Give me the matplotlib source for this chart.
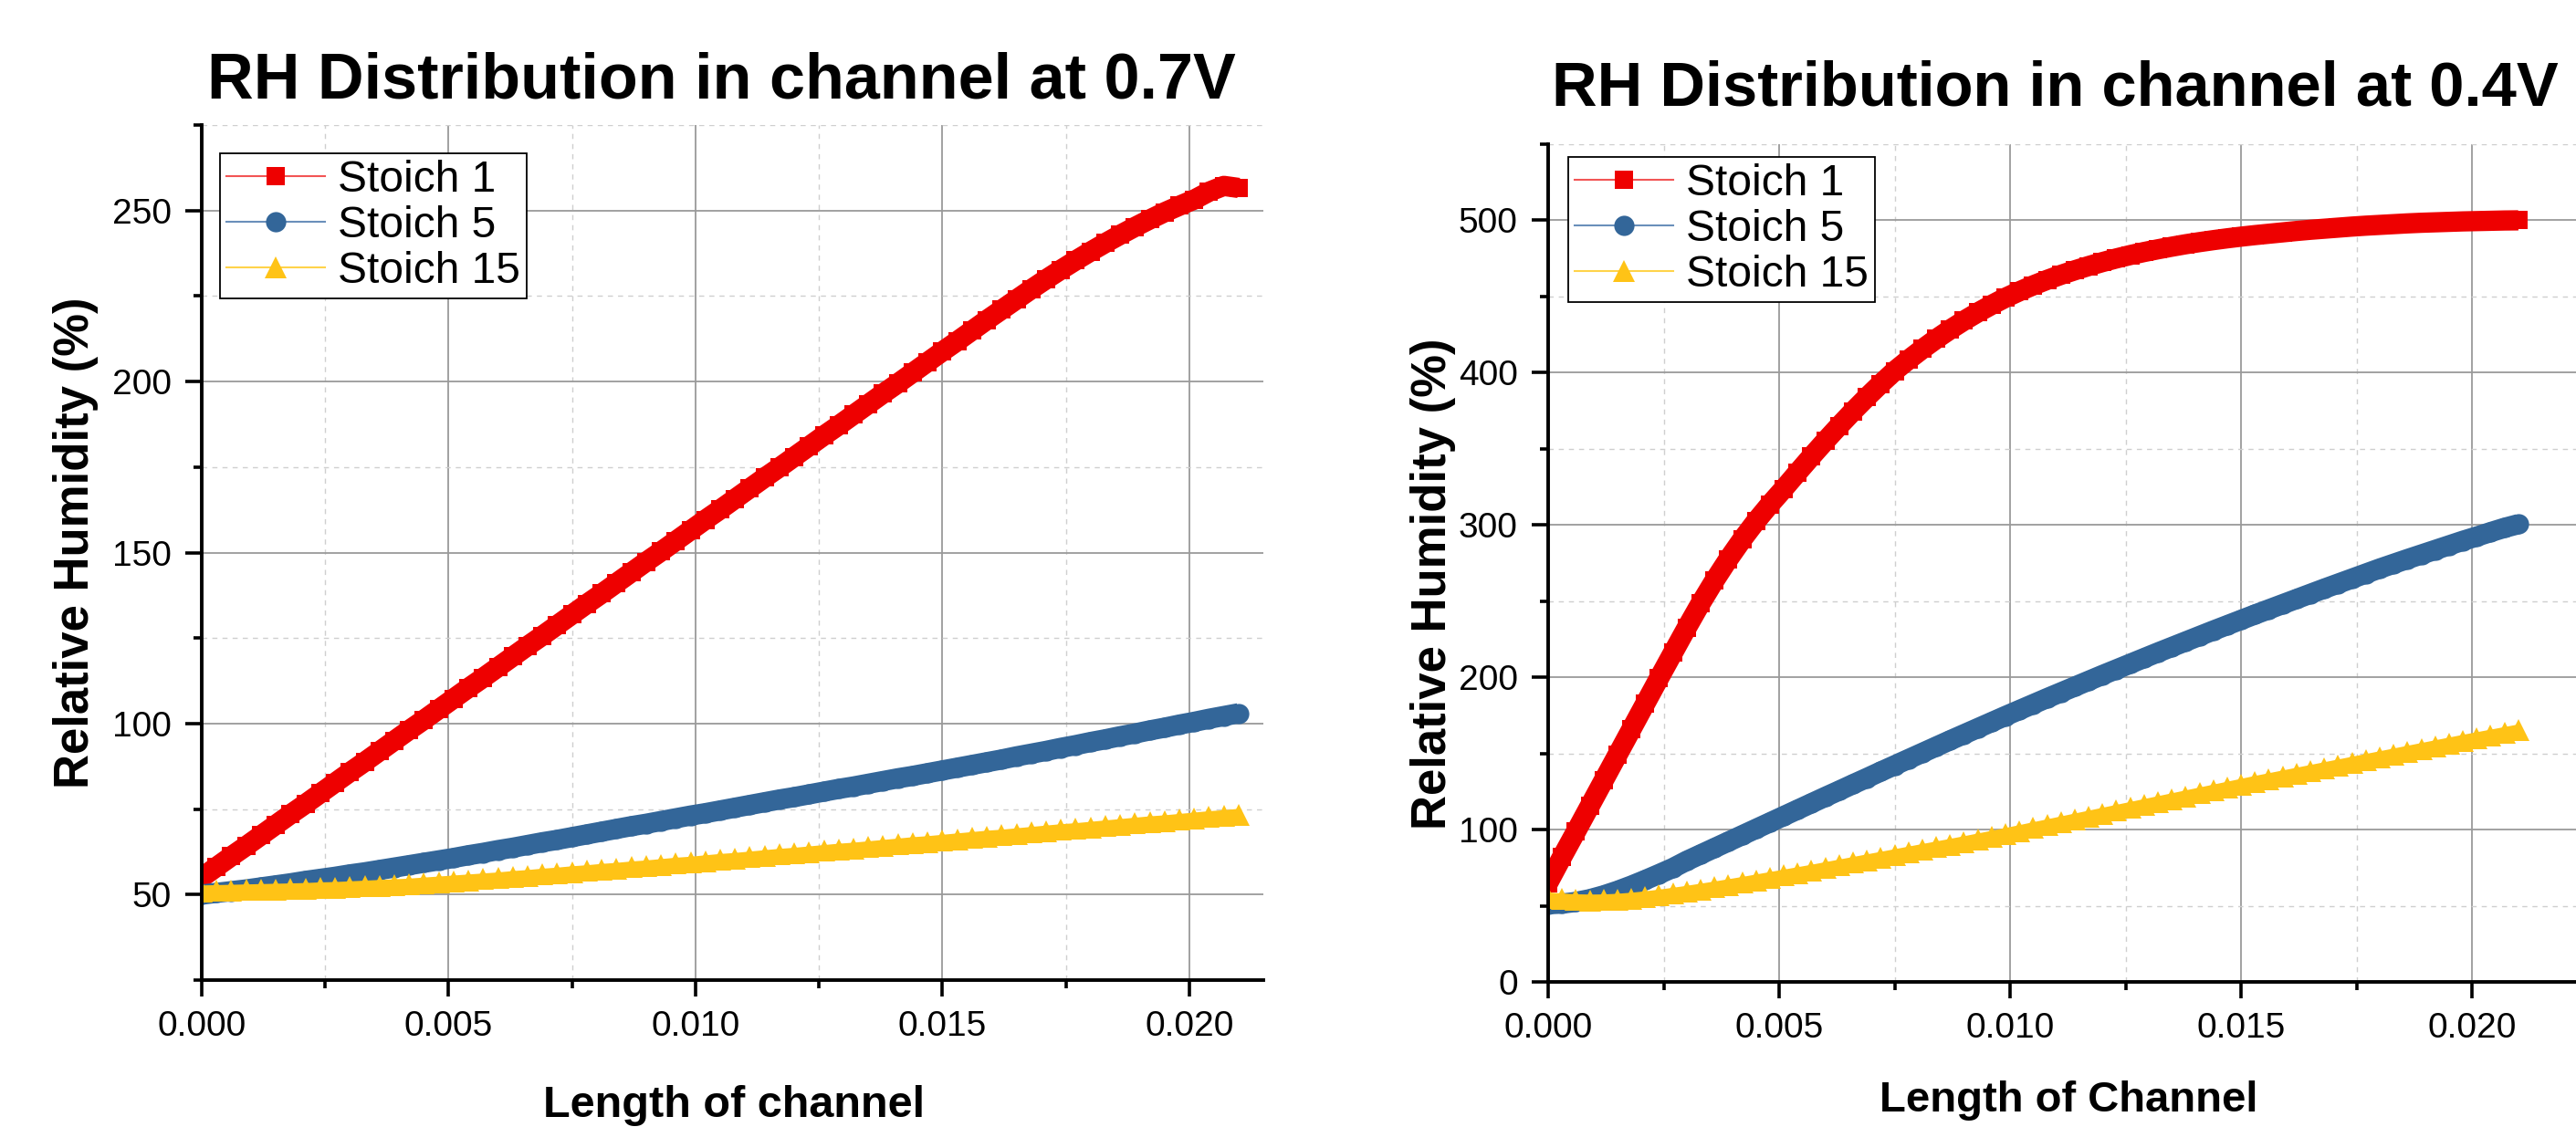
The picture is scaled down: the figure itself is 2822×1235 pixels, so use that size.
import numpy as np
import matplotlib
matplotlib.use("Agg")
import matplotlib.pyplot as plt
from matplotlib.lines import Line2D
from matplotlib.ticker import MultipleLocator, FormatStrFormatter

plt.rcParams['font.family'] = ['Liberation Sans', 'DejaVu Sans']

# channel position (m)
length = [0.0000, 0.0003, 0.0006, 0.0009, 0.0012, 0.0015, 0.0018, 0.0021, 0.0024, 0.0027,
          0.0030, 0.0033, 0.0036, 0.0039, 0.0042, 0.0045, 0.0048, 0.0051, 0.0054, 0.0057,
          0.0060, 0.0063, 0.0066, 0.0069, 0.0072, 0.0075, 0.0078, 0.0081, 0.0084, 0.0087,
          0.0090, 0.0093, 0.0096, 0.0099, 0.0102, 0.0105, 0.0108, 0.0111, 0.0114, 0.0117,
          0.0120, 0.0123, 0.0126, 0.0129, 0.0132, 0.0135, 0.0138, 0.0141, 0.0144, 0.0147,
          0.0150, 0.0153, 0.0156, 0.0159, 0.0162, 0.0165, 0.0168, 0.0171, 0.0174, 0.0177,
          0.0180, 0.0183, 0.0186, 0.0189, 0.0192, 0.0195, 0.0198, 0.0201, 0.0204, 0.0207,
          0.0210]

# RH (%) at 0.7 V
rh07_s1 = [55.0, 58.1, 61.2, 64.2, 67.3, 70.4, 73.5, 76.5, 79.6, 82.7,
           85.8, 88.8, 91.9, 95.0, 98.1, 101.1, 104.2, 107.3, 110.4, 113.4,
           116.5, 119.6, 122.7, 125.7, 128.8, 131.9, 135.0, 138.0, 141.1, 144.2,
           147.3, 150.3, 153.4, 156.5, 159.6, 162.6, 165.7, 168.8, 171.9, 174.9,
           178.0, 181.1, 184.2, 187.2, 190.3, 193.4, 196.5, 199.5, 202.6, 205.7,
           208.8, 211.8, 214.9, 218.0, 221.0, 224.0, 227.0, 229.9, 232.7, 235.4,
           238.0, 240.5, 242.9, 245.2, 247.4, 249.5, 251.4, 253.2, 255.5, 257.2,
           256.6]
rh07_s5 = [50.0, 50.5, 51.0, 51.5, 52.1, 52.7, 53.3, 54.0, 54.6, 55.2,
           55.9, 56.5, 57.2, 57.9, 58.6, 59.3, 60.0, 60.7, 61.5, 62.2,
           63.0, 63.7, 64.5, 65.3, 66.0, 66.8, 67.6, 68.4, 69.2, 70.0,
           70.7, 71.5, 72.3, 73.1, 73.8, 74.6, 75.4, 76.2, 77.0, 77.8,
           78.5, 79.3, 80.1, 80.9, 81.6, 82.4, 83.2, 84.0, 84.7, 85.5,
           86.3, 87.1, 87.9, 88.7, 89.5, 90.4, 91.2, 92.0, 92.9, 93.7,
           94.6, 95.4, 96.3, 97.1, 98.0, 98.8, 99.7, 100.5, 101.4, 102.2,
           103.0]
rh07_s15 = [51.0, 51.1, 51.2, 51.3, 51.4, 51.5, 51.6, 51.7, 51.9, 52.0,
            52.2, 52.4, 52.6, 52.8, 53.0, 53.3, 53.6, 53.9, 54.2, 54.5,
            54.8, 55.2, 55.5, 55.9, 56.2, 56.6, 56.9, 57.3, 57.6, 58.0,
            58.3, 58.7, 59.1, 59.4, 59.8, 60.2, 60.5, 60.9, 61.3, 61.7,
            62.0, 62.4, 62.8, 63.2, 63.5, 63.9, 64.3, 64.7, 65.1, 65.4,
            65.8, 66.2, 66.6, 67.0, 67.3, 67.7, 68.1, 68.5, 68.9, 69.2,
            69.6, 70.0, 70.4, 70.8, 71.2, 71.5, 71.9, 72.3, 72.7, 73.0,
            73.4]

# RH (%) at 0.4 V
rh04_s1 = [65.0, 82.0, 98.6, 115.4, 132.2, 149.0, 165.8, 182.6, 199.4, 216.0,
           232.5, 248.5, 263.5, 277.5, 290.5, 302.5, 313.5, 323.8, 334.5, 345.0,
           355.2, 365.1, 374.7, 383.9, 392.7, 401.1, 408.5, 415.5, 422.1, 428.3,
           434.1, 439.5, 444.5, 449.2, 453.4, 457.3, 460.9, 464.2, 467.2, 470.0,
           472.6, 475.0, 477.2, 479.2, 481.0, 482.7, 484.3, 485.7, 487.0, 488.2,
           489.3, 490.3, 491.2, 492.1, 493.0, 493.8, 494.5, 495.2, 495.9, 496.5,
           497.0, 497.5, 498.0, 498.4, 498.7, 499.0, 499.3, 499.5, 499.7, 499.9,
           500.0]
rh04_s5 = [51.0, 51.4, 52.5, 54.3, 56.8, 59.8, 63.2, 66.9, 70.8, 74.8,
           79.5, 83.7, 87.9, 92.1, 96.3, 100.5, 104.7, 108.9, 113.1, 117.3,
           121.5, 125.6, 129.8, 133.9, 138.1, 142.2, 146.3, 150.4, 154.5, 158.6,
           162.6, 166.6, 170.6, 174.6, 178.5, 182.4, 186.3, 190.1, 193.9, 197.7,
           201.5, 205.2, 208.9, 212.6, 216.3, 219.9, 223.5, 227.1, 230.7, 234.2,
           237.7, 241.2, 244.6, 248.0, 251.4, 254.8, 258.2, 261.5, 264.8, 268.1,
           271.4, 274.5, 277.6, 280.6, 283.6, 286.6, 289.6, 292.4, 295.3, 298.1,
           300.5]
rh04_s15 = [55.0, 54.3, 53.8, 53.6, 53.7, 54.1, 54.8, 55.7, 56.8, 58.0,
            59.3, 60.7, 62.1, 63.6, 65.1, 66.7, 68.3, 69.9, 71.5, 73.1,
            74.8, 76.5, 78.2, 79.9, 81.6, 83.3, 85.0, 86.7, 88.4, 90.1,
            91.8, 93.6, 95.4, 97.2, 99.1, 101.0, 102.9, 104.8, 106.7, 108.6,
            110.5, 112.4, 114.3, 116.2, 118.1, 120.0, 121.9, 123.8, 125.7, 127.6,
            129.5, 131.4, 133.2, 135.0, 136.8, 138.6, 140.4, 142.2, 144.0, 145.8,
            147.6, 149.4, 151.2, 153.0, 154.8, 156.6, 158.4, 160.1, 161.8, 163.5,
            165.2]

labels = ['Stoich 1', 'Stoich 5', 'Stoich 15']
markers = ['s', 'o', '^']
msizes = [15, 16, 17]
bandw = [16, 16, 9]          # the dense markers merge into a band in the original
mcolors = ['#EE0000', '#336699', '#FFC316']
lcolors = ['#F25555', '#6A8FBA', '#FFD34A']

W, H = 2822, 1235
fig = plt.figure(figsize=(W / 100, H / 100), dpi=100)

ax1 = fig.add_axes([221 / W, 1 - 1074 / H, 1163 / W, 937 / H])
ax2 = fig.add_axes([1696 / W, 1 - 1076 / H, 1164 / W, 918 / H])


def style_axis(ax, ymaj, ymin):
    for s in ['top', 'right']:
        ax.spines[s].set_visible(False)
    for s in ['left', 'bottom']:
        ax.spines[s].set_linewidth(2.8)
    ax.xaxis.set_major_locator(MultipleLocator(0.005))
    ax.xaxis.set_minor_locator(MultipleLocator(0.0025))
    ax.xaxis.set_major_formatter(FormatStrFormatter('%.3f'))
    ax.yaxis.set_major_locator(MultipleLocator(ymaj))
    ax.yaxis.set_minor_locator(MultipleLocator(ymin))
    ax.tick_params(which='major', direction='out', length=13, width=2.6,
                   labelsize=28, pad=11)
    ax.tick_params(which='minor', direction='out', length=6.5, width=2.6)
    ax.grid(which='major', color='#9a9a9a', lw=1.3)
    ax.grid(which='minor', color='#cfcfcf', lw=1.0, ls=(0, (4, 4)))
    ax.set_axisbelow(True)


for ax, series, ylim, ymaj, ymin in [
        (ax1, [rh07_s1, rh07_s5, rh07_s15], (25, 275), 50, 25),
        (ax2, [rh04_s1, rh04_s5, rh04_s15], (0, 550), 100, 50)]:
    for y, mk, ms, bw, mc in zip(series, markers, msizes, bandw, mcolors):
        ax.plot(length, y, ls='-', lw=bw, color=mc, solid_capstyle='butt',
                solid_joinstyle='round', marker=mk, ms=ms, mfc=mc, mec=mc, mew=0)
    ax.set_ylim(*ylim)
    style_axis(ax, ymaj, ymin)

ax1.set_xlim(0, 0.0215)
ax2.set_xlim(0, 0.023)

handles = [Line2D([], [], color=lc, lw=1.5, marker=mk, ms=ms, mfc=mc, mec=mc, mew=0)
           for mk, ms, mc, lc in zip(markers, msizes, mcolors, lcolors)]
leg_kw = dict(loc='upper left', fontsize=34.5, frameon=True, fancybox=False,
              edgecolor='black', framealpha=1, labelspacing=0.1,
              handlelength=2.25, handletextpad=0.3, borderpad=0.15,
              borderaxespad=0)
for ax, anchor in [(ax1, (20 / 1163, 1 - 31 / 937)), (ax2, (22 / 1164, 1 - 14 / 918))]:
    leg = ax.legend(handles, labels, bbox_to_anchor=anchor, **leg_kw)
    leg.get_frame().set_linewidth(1.3)

# titles and axis labels
fig.text(790 / W, 1 - 108 / H, 'RH Distribution in channel at 0.7V', fontsize=50.5,
         fontweight='bold', ha='center', va='baseline')
fig.text(2251 / W, 1 - 115 / H, 'RH Distribution in channel at 0.4V', fontsize=49.5,
         fontweight='bold', ha='center', va='baseline')
fig.text(804 / W, 1 - 1224 / H, 'Length of channel', fontsize=35,
         fontweight='bold', ha='center', va='baseline')
fig.text(2266 / W, 1 - 1218 / H, 'Length of Channel', fontsize=34,
         fontweight='bold', ha='center', va='baseline')
fig.text(83 / W, 1 - 595 / H, 'Relative Humidity (%)', fontsize=38,
         fontweight='bold', ha='center', va='center', rotation=90)
fig.text(1570 / W, 1 - 640 / H, 'Relative Humidity (%)', fontsize=38,
         fontweight='bold', ha='center', va='center', rotation=90)

fig.savefig('out.png', dpi=100)
